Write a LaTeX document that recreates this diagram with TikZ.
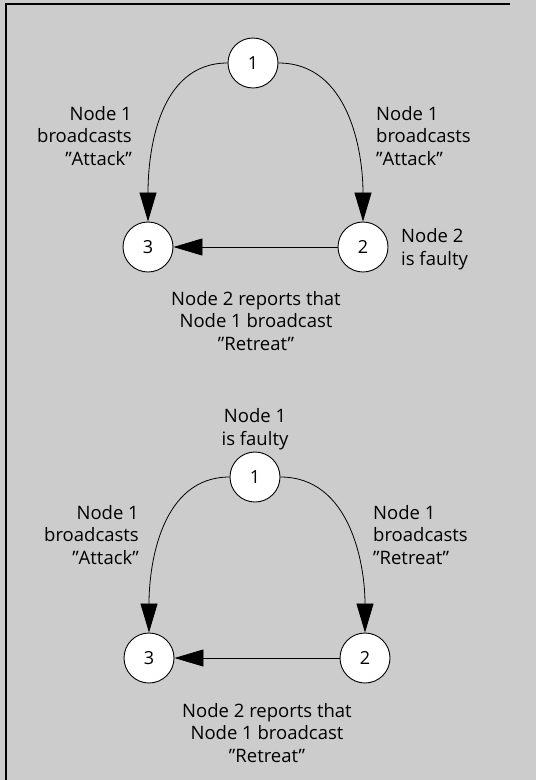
\documentclass[tikz,border=0pt]{standalone}
\usepackage{fontspec}
\setmainfont{Open Sans}
\usetikzlibrary{arrows.meta}
\newcommand{\quoted}[1]{\symbol{34}#1\symbol{34}}
\begin{document}
\begin{tikzpicture}[x=1pt, y=-1pt,
    proc/.style={circle, draw, fill=white, minimum size=50pt, inner sep=0pt, line width=0.9pt,
      font=\fontsize{18}{20}\selectfont},
    note/.style={font=\fontsize{18.5}{22.5}\selectfont, inner sep=0pt},
    msg/.style={line width=0.8pt, -{Triangle[length=29pt, width=17pt]}}]
  \useasboundingbox (0,0) rectangle (536,780);
  \fill[black!20] (0,0) rectangle (536,780);
  \draw[line width=1.5pt] (510,4) -- (6,4) -- (6,780);

  % upper case: node 2 is faulty
  \node[proc] (n1) at (253,63) {1};
  \node[proc] (n3) at (148,247) {3};
  \node[proc] (n2) at (363,247) {2};
  \draw[msg] (n1.west) to[out=180, in=90] (n3.north);
  \draw[msg] (n1.east) to[out=0, in=90] (n2.north);
  \draw[msg] (n2.west) -- (n3.east);
  \node[note, align=right, anchor=east] (l1) at (132,136) {Node 1\\broadcasts\\\quoted{Attack}};
  \node[note, align=left, anchor=west] (r1) at (376,136) {Node 1\\broadcasts\\\quoted{Attack}};
  \node[note, align=left, anchor=west] (f1) at (401,249) {Node 2\\is faulty};
  \node[note, align=center] (b1) at (256,321) {Node 2 reports that\\Node 1 broadcast\\\quoted{Retreat}};

  % lower case: node 1 is faulty
  \node[proc] (m1) at (255,477) {1};
  \node[proc] (m3) at (149,658) {3};
  \node[proc] (m2) at (365,658) {2};
  \draw[msg] (m1.west) to[out=180, in=90] (m3.north);
  \draw[msg] (m1.east) to[out=0, in=90] (m2.north);
  \draw[msg] (m2.west) -- (m3.east);
  \node[note, align=center] (f2) at (255,429) {Node 1\\is faulty};
  \node[note, align=right, anchor=east] (l2) at (139,535) {Node 1\\broadcasts\\\quoted{Attack}};
  \node[note, align=left, anchor=west] (r2) at (373,535) {Node 1\\broadcasts\\\quoted{Retreat}};
  \node[note, align=center] (b2) at (267,733) {Node 2 reports that\\Node 1 broadcast\\\quoted{Retreat}};
\end{tikzpicture}
\end{document}
